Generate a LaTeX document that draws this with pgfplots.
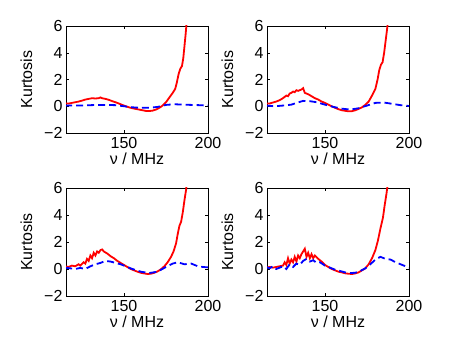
\documentclass[border=0pt]{standalone}
\usepackage{fontspec}
\setmainfont{Liberation Sans}
\usepackage{pgfplots}
\pgfplotsset{compat=1.18}

\pgfplotsset{
  kurt/.style={
    scale only axis, width=142pt, height=107pt,
    xmin=115.5, xmax=200, ymin=-2, ymax=6,
    xtick={150,200}, ytick={-2,0,2,4,6},
    yticklabels={−2,0,2,4,6},
    tick align=inside, major tick length=3pt,
    tick style={black, line width=0.4pt},
    axis line style={line width=0.5pt},
    /pgf/number format/assume math mode=true,
    tick label style={font=\fontsize{16}{19}\selectfont},
    label style={font=\fontsize{16}{19}\selectfont},
    xticklabel style={yshift=-1pt},
    xlabel={ν / MHz}, ylabel={Kurtosis},
    xlabel style={yshift=3pt},
    ylabel style={yshift=5pt},
    clip=true,
  },
  redline/.style={red, line width=1.8pt},
  blueline/.style={blue, line width=1.8pt, dash pattern=on 7pt off 4pt},
}

\begin{document}
\begin{tikzpicture}
\path[use as bounding box] (0,0) rectangle (458pt,344pt);

% top left
\begin{axis}[kurt, at={(66pt,211pt)}, anchor=south west]
\addplot[redline] coordinates {(115,0.22)(117,0.2)(119,0.25)(121,0.3)(123,0.35)(125,0.42)(127,0.5)(129,0.55)(131,0.6)(133,0.58)(135,0.6)(136,0.66)(137,0.6)(139,0.55)(141,0.48)(143,0.38)(145,0.3)(147,0.2)(149,0.1)(151,0.0)(153,-0.08)(155,-0.15)(157,-0.2)(159,-0.25)(161,-0.3)(163,-0.35)(165,-0.36)(167,-0.33)(169,-0.25)(171,-0.12)(173,0.05)(175,0.3)(177,0.65)(179,1.0)(180.5,1.3)(181.5,1.8)(182.5,2.4)(183.5,2.8)(184.5,3.0)(185.3,3.6)(186,4.5)(186.7,5.4)(187.3,6.3)(188,7.5)};
\addplot[blueline] coordinates {(115,0.05)(120,0.05)(125,0.06)(130,0.08)(135,0.1)(140,0.1)(145,0.08)(150,0.0)(155,-0.08)(160,-0.12)(165,-0.12)(170,-0.05)(175,0.1)(180,0.15)(185,0.12)(190,0.1)(195,0.08)(200,0.05)};
\end{axis}

% top right
\begin{axis}[kurt, at={(267pt,211pt)}, anchor=south west]
\addplot[redline] coordinates {(115,0.2)(117,0.2)(119,0.28)(121,0.35)(123,0.45)(125,0.6)(127,0.8)(128,0.75)(129,0.95)(130,1.0)(131,1.1)(132,1.05)(133,1.2)(134,1.15)(135,1.2)(136,1.25)(137,1.35)(138,1.0)(140,0.9)(142,0.75)(144,0.6)(146,0.5)(148,0.35)(150,0.25)(152,0.12)(154,0.0)(156,-0.12)(158,-0.22)(160,-0.3)(162,-0.34)(164,-0.38)(166,-0.37)(168,-0.3)(170,-0.2)(172,-0.08)(174,0.1)(176,0.35)(178,0.8)(180,1.3)(181.3,2.0)(182.3,2.7)(183.3,3.1)(184.3,3.3)(185.2,4.0)(186,4.8)(186.8,5.6)(187.5,6.4)(188.2,7.5)};
\addplot[blueline] coordinates {(115,0.05)(120,0.0)(125,0.05)(130,0.12)(133,0.25)(137,0.4)(141,0.38)(145,0.3)(150,0.12)(155,-0.05)(160,-0.18)(165,-0.25)(170,-0.15)(175,0.05)(180,0.25)(185,0.28)(190,0.18)(195,0.08)(200,0.02)};
\end{axis}

% bottom left
\begin{axis}[kurt, height=108pt, at={(66pt,48pt)}, anchor=south west]
\addplot[redline] coordinates {(115,0.2)(117,0.15)(119,0.25)(121,0.2)(123,0.35)(124,0.25)(126,0.5)(127,0.4)(128,0.75)(129,0.6)(130,1.0)(131,0.8)(132,1.2)(133,1.0)(134,1.3)(135,1.2)(136,1.4)(137,1.45)(138,1.3)(140,1.15)(142,0.95)(144,0.8)(146,0.6)(148,0.45)(150,0.3)(152,0.15)(154,0.0)(156,-0.1)(158,-0.2)(160,-0.28)(162,-0.33)(164,-0.37)(166,-0.35)(168,-0.28)(170,-0.18)(172,-0.02)(174,0.2)(176,0.5)(178,0.9)(179.5,1.3)(181,1.9)(182,2.6)(183,3.2)(184,3.5)(185,4.2)(186,5.1)(187,5.9)(188,7.2)};
\addplot[blueline] coordinates {(115,0.1)(118,0.05)(121,0.0)(124,0.08)(127,0.0)(130,0.2)(133,0.35)(136,0.45)(139,0.6)(142,0.55)(145,0.45)(148,0.35)(151,0.2)(155,0.0)(160,-0.2)(165,-0.3)(170,-0.2)(175,0.15)(179,0.4)(182,0.5)(186,0.35)(190,0.4)(194,0.2)(197,0.15)(200,0.12)};
\end{axis}

% bottom right
\begin{axis}[kurt, height=108pt, at={(267pt,48pt)}, anchor=south west]
\addplot[redline] coordinates {(115,0.1)(117,0.15)(119,0.1)(121,0.15)(123,0.2)(125,0.25)(126,0.5)(127,0.3)(128,0.8)(129,0.4)(130,0.7)(131,0.5)(132,0.9)(133,0.55)(134,1.0)(135,0.8)(136,1.1)(137,1.3)(138,1.5)(139,0.9)(140,1.2)(141,0.8)(142,1.1)(143,0.8)(144,1.0)(146,0.75)(148,0.55)(150,0.3)(152,0.15)(154,0.0)(156,-0.1)(158,-0.2)(160,-0.25)(162,-0.32)(164,-0.35)(166,-0.37)(168,-0.33)(170,-0.25)(172,-0.1)(174,0.05)(176,0.35)(178,0.8)(180,1.4)(181.5,2.1)(183,3.0)(184.5,3.8)(185.5,4.7)(186.5,5.5)(187.5,6.4)(188.5,7.5)};
\addplot[blueline] coordinates {(115,0.15)(117,0.05)(119,0.2)(121,0.0)(123,0.1)(125,0.2)(127,0.0)(129,0.35)(131,0.15)(133,0.4)(135,0.3)(137,0.6)(139,0.75)(141,0.55)(143,0.65)(145,0.45)(147,0.5)(150,0.25)(153,0.1)(156,-0.05)(159,-0.15)(162,-0.25)(165,-0.3)(168,-0.28)(171,-0.15)(174,0.05)(177,0.35)(180,0.7)(183,0.9)(186,0.75)(189,0.7)(192,0.5)(195,0.35)(198,0.2)(200,0.1)};
\end{axis}
\end{tikzpicture}
\end{document}
